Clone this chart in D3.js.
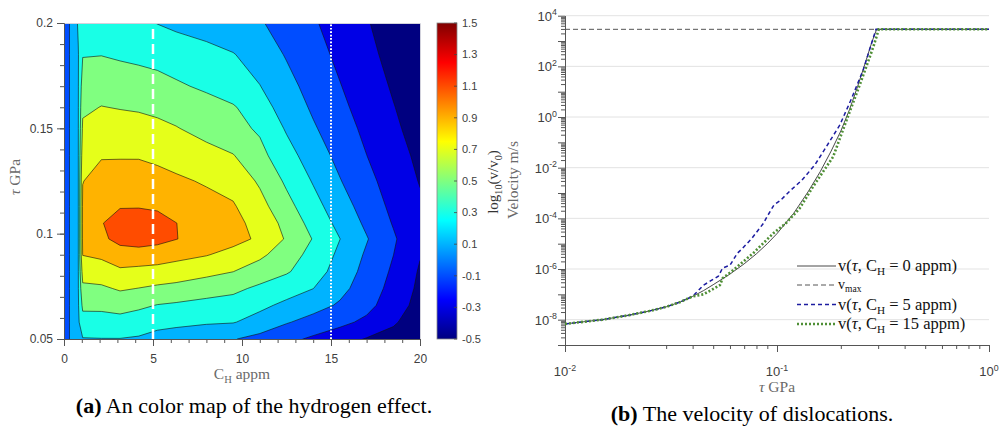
<!DOCTYPE html>
<html>
<head>
<meta charset="utf-8">
<script src="https://cdn.jsdelivr.net/npm/d3@7/dist/d3.min.js"></script>
<style>
  html, body { margin: 0; padding: 0; background: #fff; }
  svg { display: block; }
</style>
</head>
<body>
<div id="chart"></div>
<script>
// ---------- (a) colour map: log10(v/v0) sampled on a C_H x tau grid ----------
const chCols  = [0, 0.35, 0.8, 1.05, 2.1, 3.15, 4.2, 5.25, 6.3, 8, 9.5, 11, 12.5, 14, 15.5, 17, 18.5, 20];
const tauRows = [0.05, 0.058, 0.066, 0.074, 0.082, 0.09, 0.0975, 0.105, 0.113, 0.125, 0.137, 0.15, 0.16, 0.17, 0.185, 0.2];
const logRatio = [
  [-0.05, 0.12, 0.24, 0.29, 0.295, 0.295, 0.28, 0.23, 0.2, 0.153, 0.111, 0.038, -0.046, -0.133, -0.222, -0.312, -0.35, -0.40],
  [-0.05, 0.12, 0.27, 0.42, 0.42, 0.43, 0.396, 0.364, 0.347, 0.322, 0.31, 0.23, 0.115, 0.032, -0.047, -0.145, -0.282, -0.38],
  [-0.05, 0.12, 0.28, 0.543, 0.546, 0.575, 0.539, 0.493, 0.472, 0.44, 0.42, 0.342, 0.259, 0.171, 0.077, -0.036, -0.213, -0.36],
  [-0.05, 0.12, 0.29, 0.66, 0.669, 0.722, 0.696, 0.665, 0.643, 0.586, 0.545, 0.462, 0.381, 0.302, 0.154, 0.008, -0.164, -0.34],
  [-0.05, 0.12, 0.29, 0.779, 0.81, 0.866, 0.851, 0.833, 0.807, 0.756, 0.702, 0.61, 0.521, 0.388, 0.22, 0.037, -0.129, -0.32],
  [-0.05, 0.12, 0.29, 0.905, 0.935, 1.013, 1.008, 0.998, 0.96, 0.91, 0.838, 0.739, 0.6, 0.433, 0.262, 0.073, -0.098, -0.29],
  [-0.05, 0.12, 0.29, 0.93, 1.06, 1.16, 1.2, 1.16, 1.105, 1.02, 0.96, 0.87, 0.68, 0.49, 0.302, 0.113, -0.075, -0.26],
  [-0.05, 0.12, 0.29, 0.935, 1.09, 1.18, 1.2, 1.17, 1.102, 1.019, 0.95, 0.84, 0.635, 0.43, 0.245, 0.063, -0.113, -0.25],
  [-0.05, 0.12, 0.29, 0.93, 1.052, 1.088, 1.088, 1.073, 1.034, 0.965, 0.918, 0.767, 0.563, 0.37, 0.189, 0.016, -0.147, -0.27],
  [-0.05, 0.12, 0.29, 0.895, 0.97, 0.987, 0.985, 0.965, 0.931, 0.88, 0.83, 0.672, 0.467, 0.285, 0.11, -0.046, -0.185, -0.31],
  [-0.05, 0.12, 0.29, 0.816, 0.887, 0.886, 0.886, 0.859, 0.825, 0.769, 0.71, 0.557, 0.376, 0.202, 0.045, -0.098, -0.225, -0.34],
  [-0.05, 0.12, 0.29, 0.73, 0.786, 0.776, 0.768, 0.744, 0.71, 0.63, 0.56, 0.473, 0.279, 0.122, -0.015, -0.144, -0.264, -0.38],
  [-0.05, 0.12, 0.29, 0.667, 0.705, 0.691, 0.679, 0.656, 0.618, 0.571, 0.52, 0.378, 0.218, 0.071, -0.057, -0.177, -0.292, -0.40],
  [-0.05, 0.12, 0.29, 0.6, 0.624, 0.604, 0.589, 0.567, 0.527, 0.468, 0.386, 0.305, 0.161, 0.029, -0.092, -0.206, -0.32, -0.42],
  [-0.05, 0.12, 0.29, 0.49, 0.495, 0.474, 0.455, 0.433, 0.4, 0.364, 0.31, 0.21, 0.085, -0.029, -0.141, -0.249, -0.36, -0.46],
  [-0.05, 0.12, 0.32, 0.42, 0.42, 0.39, 0.34, 0.295, 0.261, 0.209, 0.162, 0.116, 0.029, -0.079, -0.183, -0.286, -0.39, -0.49]
];
const levels  = [-0.3, -0.1, 0.1, 0.3, 0.5, 0.7, 0.9, 1.1];
const cbTicks = [-0.5, -0.3, -0.1, 0.1, 0.3, 0.5, 0.7, 0.9, 1.1, 1.3, 1.5];
const xTicksA = [0, 5, 10, 15, 20];
const yTicksA = [0.05, 0.1, 0.15, 0.2];
const markDashed = 5, markDotted = 15;   // white reference lines (C_H appm)

// ---------- (b) dislocation velocity vs tau ----------
const tau0 = [0.01, 0.015, 0.02, 0.025, 0.03, 0.035, 0.04, 0.045, 0.05, 0.06, 0.07, 0.08, 0.09, 0.1, 0.12, 0.14, 0.16, 0.18, 0.2, 0.22, 0.24, 0.26, 0.28, 0.295, 1.0];
const vel0 = [6.8e-9, 1.0e-8, 1.5e-8, 2.2e-8, 3.2e-8, 5.0e-8, 8.3e-8, 1.4e-7, 2.4e-7, 6.3e-7, 1.6e-6, 4.0e-6, 1.0e-5, 2.5e-5, 1.6e-4, 1.1e-3, 7.0e-3, 0.045, 0.28, 2.0, 16, 126, 890, 2900, 2900];
const tau5 = [0.045, 0.0529, 0.0554, 0.060, 0.065, 0.0681, 0.076, 0.0862, 0.0894, 0.0968, 0.104, 0.115, 0.131, 0.151, 0.171, 0.198, 0.225, 0.255, 0.293, 1.0];
const vel5 = [2.3e-7, 5.2e-7, 1.1e-6, 1.4e-6, 4.2e-6, 6.0e-6, 1.6e-5, 6.3e-5, 1.1e-4, 3.4e-4, 5.2e-4, 1.2e-3, 3.2e-3, 0.013, 0.068, 0.49, 5.5, 72, 2900, 2900];
const tau15 = [0.045, 0.0538, 0.0554, 0.0622, 0.0772, 0.0962, 0.111, 0.128, 0.148, 0.184, 0.213, 0.247, 0.285, 0.302, 1.0];
const vel15 = [1.0e-7, 2.3e-7, 4.3e-7, 9.1e-7, 4.2e-6, 2.6e-5, 6.8e-5, 2.5e-4, 1.8e-3, 0.027, 0.76, 21, 600, 2900, 2900];
const vMax = 2900;
const yLabelExp = [4, 2, 0, -2, -4, -6, -8];
const xLabelExp = [-2, -1, 0];

const SANS = '"Liberation Sans", Arial, Helvetica, sans-serif';
const SERIF = '"Liberation Serif", "Times New Roman", serif';

const svg = d3.select('#chart').append('svg')
  .attr('width', 1003).attr('height', 427)
  .attr('viewBox', '0 0 1003 427');
svg.append('rect').attr('width', 1003).attr('height', 427).attr('fill', '#fff');

// rich text helper: parts = [[str, kind]], kind '', 'sub', 'sup', 'it'
function rich(sel, parts, size) {
  let shift = 0;
  parts.forEach(([str, kind]) => {
    const t = sel.append('tspan').text(str);
    const target = kind === 'sub' ? size * 0.25 : kind === 'sup' ? -size * 0.42 : 0;
    if (target !== shift) { t.attr('dy', target - shift); shift = target; }
    if (kind === 'sub' || kind === 'sup') t.attr('font-size', size * 0.68);
    if (kind === 'it') t.attr('font-style', 'italic');
  });
}

// jet colormap as a d3 scale over the colour-bar range
const jet = d3.scaleLinear()
  .domain([-0.5, -0.25, 0.25, 0.75, 1.25, 1.5])
  .range(['#000080', '#0000ff', '#00ffff', '#ffff00', '#ff0000', '#800000'])
  .clamp(true);

// ================= panel (a) =================
const xA = d3.scaleLinear().domain([0, 20]).range([64, 420]);
const yA = d3.scaleLinear().domain([0.05, 0.2]).range([339, 23]);

svg.append('clipPath').attr('id', 'clipA')
  .append('rect').attr('x', 64).attr('y', 23).attr('width', 356).attr('height', 316);

const gA = svg.append('g').attr('clip-path', 'url(#clipA)');
gA.append('rect').attr('x', 64).attr('y', 23).attr('width', 356).attr('height', 316)
  .attr('fill', jet(-0.5));

const nx = chCols.length, ny = tauRows.length;
const gridX = d3.scaleLinear().domain(d3.range(nx).map(i => i + 0.5)).range(chCols);
const gridY = d3.scaleLinear().domain(d3.range(ny).map(j => j + 0.5)).range(tauRows);
const proj = d3.geoTransform({
  point(x, y) { this.stream.point(xA(gridX(x)), yA(gridY(y))); }
});
const cPath = d3.geoPath(proj);
const bands = d3.contours().size([nx, ny]).thresholds(levels)(logRatio.flat());

gA.selectAll('path.band').data(bands).enter().append('path')
  .attr('class', 'band')
  .attr('d', cPath)
  .attr('fill', d => jet(d.value))
  .attr('stroke', '#111')
  .attr('stroke-width', 0.6)
  .attr('stroke-linejoin', 'round');

// white reference lines, drawn bottom to top
gA.append('line')
  .attr('x1', xA(markDashed)).attr('x2', xA(markDashed))
  .attr('y1', yA(0.05)).attr('y2', yA(0.2))
  .attr('stroke', '#fff').attr('stroke-width', 2.5).attr('stroke-dasharray', '10,5');
gA.append('line')
  .attr('x1', xA(markDotted)).attr('x2', xA(markDotted))
  .attr('y1', yA(0.05)).attr('y2', yA(0.2))
  .attr('stroke', '#fff').attr('stroke-width', 2).attr('stroke-dasharray', '1.7,1.7');

// light box edges
svg.append('path').attr('d', `M64,23.5H420.5V339`).attr('fill', 'none')
  .attr('stroke', '#d2d2dc').attr('stroke-width', 1);

function styleAxis(g) {
  g.select('.domain').attr('stroke', '#555').attr('stroke-width', 1);
  g.selectAll('.tick line').attr('stroke', '#555');
  g.selectAll('.tick text').attr('fill', '#404040').attr('font-family', SANS).attr('font-size', 12);
}

svg.append('g').attr('transform', 'translate(0,339)')
  .call(d3.axisBottom(xA).tickValues(d3.range(0, 21)).tickSize(4).tickSizeOuter(0).tickFormat(''))
  .call(styleAxis);
svg.append('g').attr('transform', 'translate(0,339)')
  .call(d3.axisBottom(xA).tickValues(xTicksA).tickSize(7).tickSizeOuter(0).tickPadding(8))
  .call(styleAxis);
svg.append('g').attr('transform', 'translate(64,0)')
  .call(d3.axisLeft(yA).tickValues(d3.range(0, 16).map(i => 0.05 + i * 0.01)).tickSize(4).tickSizeOuter(0).tickFormat(''))
  .call(styleAxis);
svg.append('g').attr('transform', 'translate(64,0)')
  .call(d3.axisLeft(yA).tickValues(yTicksA).tickSize(7).tickSizeOuter(0).tickPadding(4).tickFormat(d => String(+d.toFixed(2))))
  .call(styleAxis);

const labA = svg.append('text').attr('x', 242).attr('y', 379).attr('text-anchor', 'middle')
  .attr('font-family', SERIF).attr('font-size', 15.5).attr('fill', '#6a6a6a');
rich(labA, [['C', ''], ['H', 'sub'], [' appm', '']], 15.5);

const labTau = svg.append('text').attr('transform', 'translate(20,177) rotate(-90)')
  .attr('text-anchor', 'middle').attr('font-family', SERIF).attr('font-size', 15.5).attr('fill', '#6a6a6a');
rich(labTau, [['τ', 'it'], [' GPa', '']], 15.5);

// colour bar
const cbY = d3.scaleLinear().domain([-0.5, 1.5]).range([339, 23]);
const grad = svg.append('defs').append('linearGradient').attr('id', 'jetGrad')
  .attr('x1', 0).attr('y1', 1).attr('x2', 0).attr('y2', 0);
jet.domain().forEach(v => {
  grad.append('stop').attr('offset', (v + 0.5) / 2).attr('stop-color', jet(v));
});
svg.append('rect').attr('x', 437).attr('y', 23).attr('width', 20).attr('height', 316)
  .attr('fill', 'url(#jetGrad)').attr('stroke', '#888').attr('stroke-width', 0.8);
cbTicks.forEach(v => {
  svg.append('line').attr('x1', 454).attr('x2', 457).attr('y1', cbY(v)).attr('y2', cbY(v))
    .attr('stroke', '#444').attr('stroke-width', 0.8);
  svg.append('text').attr('x', 462).attr('y', cbY(v)).attr('dy', '0.35em')
    .attr('font-family', SANS).attr('font-size', 11).attr('fill', '#404040')
    .text(v.toFixed(1));
});
const cbLab = svg.append('text').attr('transform', 'translate(498,182) rotate(-90)')
  .attr('text-anchor', 'middle').attr('font-family', SERIF).attr('font-size', 15).attr('fill', '#333');
rich(cbLab, [['log', ''], ['10', 'sub'], ['(v/v', ''], ['0', 'sub'], [')', '']], 15);

// ================= panel (b) =================
const xR = d3.scaleLog().domain([0.01, 1]).range([565, 989]);
const yR = d3.scaleLog().domain([1e-9, 1e4]).range([345, 15.7]);

// grid
svg.append('g').selectAll('line').data(yLabelExp).enter().append('line')
  .attr('x1', 565).attr('x2', 989)
  .attr('y1', d => yR(Math.pow(10, d))).attr('y2', d => yR(Math.pow(10, d)))
  .attr('stroke', '#e3e3e3').attr('stroke-width', 1);

const decadesY = d3.range(-9, 5).map(k => Math.pow(10, k));
const minorY = [];
d3.range(-9, 4).forEach(k => d3.range(2, 10).forEach(m => minorY.push(m * Math.pow(10, k))));
const decadesX = [0.01, 0.1, 1];
const minorX = [];
d3.range(-2, 0).forEach(k => d3.range(2, 10).forEach(m => minorX.push(m * Math.pow(10, k))));

svg.append('g').attr('transform', 'translate(565,0)')
  .call(d3.axisLeft(yR).tickValues(minorY).tickSize(4).tickSizeOuter(0).tickFormat(''))
  .call(styleAxis);
svg.append('g').attr('transform', 'translate(565,0)')
  .call(d3.axisLeft(yR).tickValues(decadesY).tickSize(7).tickSizeOuter(0).tickFormat(''))
  .call(styleAxis);
svg.append('g').attr('transform', 'translate(0,345)')
  .call(d3.axisBottom(xR).tickValues(minorX).tickSize(4).tickSizeOuter(0).tickFormat(''))
  .call(styleAxis);
svg.append('g').attr('transform', 'translate(0,345)')
  .call(d3.axisBottom(xR).tickValues(decadesX).tickSize(7).tickSizeOuter(0).tickFormat(''))
  .call(styleAxis);

yLabelExp.forEach(k => {
  const t = svg.append('text').attr('x', 557).attr('y', yR(Math.pow(10, k)) + 5)
    .attr('text-anchor', 'end').attr('font-family', SANS).attr('font-size', 13).attr('fill', '#404040');
  rich(t, [['10', ''], [String(k), 'sup']], 13);
});
xLabelExp.forEach(k => {
  const t = svg.append('text').attr('x', xR(Math.pow(10, k))).attr('y', 376)
    .attr('text-anchor', 'middle').attr('font-family', SANS).attr('font-size', 13).attr('fill', '#404040');
  rich(t, [['10', ''], [String(k), 'sup']], 13);
});

const labTauR = svg.append('text').attr('x', 777).attr('y', 392).attr('text-anchor', 'middle')
  .attr('font-family', SERIF).attr('font-size', 15.5).attr('fill', '#6a6a6a');
rich(labTauR, [['τ', 'it'], [' GPa', '']], 15.5);
svg.append('text').attr('transform', 'translate(518,180) rotate(-90)')
  .attr('text-anchor', 'middle').attr('font-family', SERIF).attr('font-size', 15.5).attr('fill', '#6a6a6a')
  .text('Velocity m/s');

// curves
const line = d3.line().x(d => xR(d[0])).y(d => yR(d[1]));
const base = d3.zip(tau0, vel0);
const curve5 = base.filter(d => d[0] < tau5[0]).concat(d3.zip(tau5, vel5));
const curve15 = base.filter(d => d[0] < tau15[0]).concat(d3.zip(tau15, vel15));

const series = [
  { data: base, stroke: '#1a1a1a', width: 0.8, dash: null },
  { data: [[0.01, vMax], [1, vMax]], stroke: '#555', width: 1, dash: '5,3' },
  { data: curve5, stroke: '#1c1ca0', width: 1.5, dash: '4,3' },
  { data: curve15, stroke: '#4f8f36', width: 2.6, dash: '2,2' }
];
svg.append('g').selectAll('path').data(series).enter().append('path')
  .attr('d', d => line(d.data))
  .attr('fill', 'none')
  .attr('stroke', d => d.stroke)
  .attr('stroke-width', d => d.width)
  .attr('stroke-dasharray', d => d.dash);

// legend
const legendRows = [
  { y: 266, s: series[0], size: 16.5, parts: [['v(', ''], ['τ', 'it'], [', C', ''], ['H', 'sub'], [' = 0 appm)', '']] },
  { y: 285, s: series[1], size: 14, parts: [['v', ''], ['max', 'sub']] },
  { y: 304.5, s: series[2], size: 16.5, parts: [['v(', ''], ['τ', 'it'], [', C', ''], ['H', 'sub'], [' = 5 appm)', '']] },
  { y: 324, s: series[3], size: 16.5, parts: [['v(', ''], ['τ', 'it'], [', C', ''], ['H', 'sub'], [' = 15 appm)', '']] }
];
legendRows.forEach(r => {
  svg.append('line').attr('x1', 797).attr('x2', 836).attr('y1', r.y).attr('y2', r.y)
    .attr('stroke', r.s.stroke).attr('stroke-width', r.s.width).attr('stroke-dasharray', r.s.dash);
  const t = svg.append('text').attr('x', 838).attr('y', r.y + (r.size < 15 ? 3.5 : 5))
    .attr('font-family', SERIF).attr('font-size', r.size).attr('fill', '#111');
  rich(t, r.parts, r.size);
});

// captions
const capA = svg.append('text').attr('x', 254).attr('y', 413).attr('text-anchor', 'middle')
  .attr('font-family', SERIF).attr('font-size', 22).attr('fill', '#000');
capA.append('tspan').attr('font-weight', 'bold').text('(a)');
capA.append('tspan').text(' An color map of the hydrogen effect.');
const capB = svg.append('text').attr('x', 752).attr('y', 421).attr('text-anchor', 'middle')
  .attr('font-family', SERIF).attr('font-size', 22).attr('fill', '#000');
capB.append('tspan').attr('font-weight', 'bold').text('(b)');
capB.append('tspan').text(' The velocity of dislocations.');
</script>
</body>
</html>
